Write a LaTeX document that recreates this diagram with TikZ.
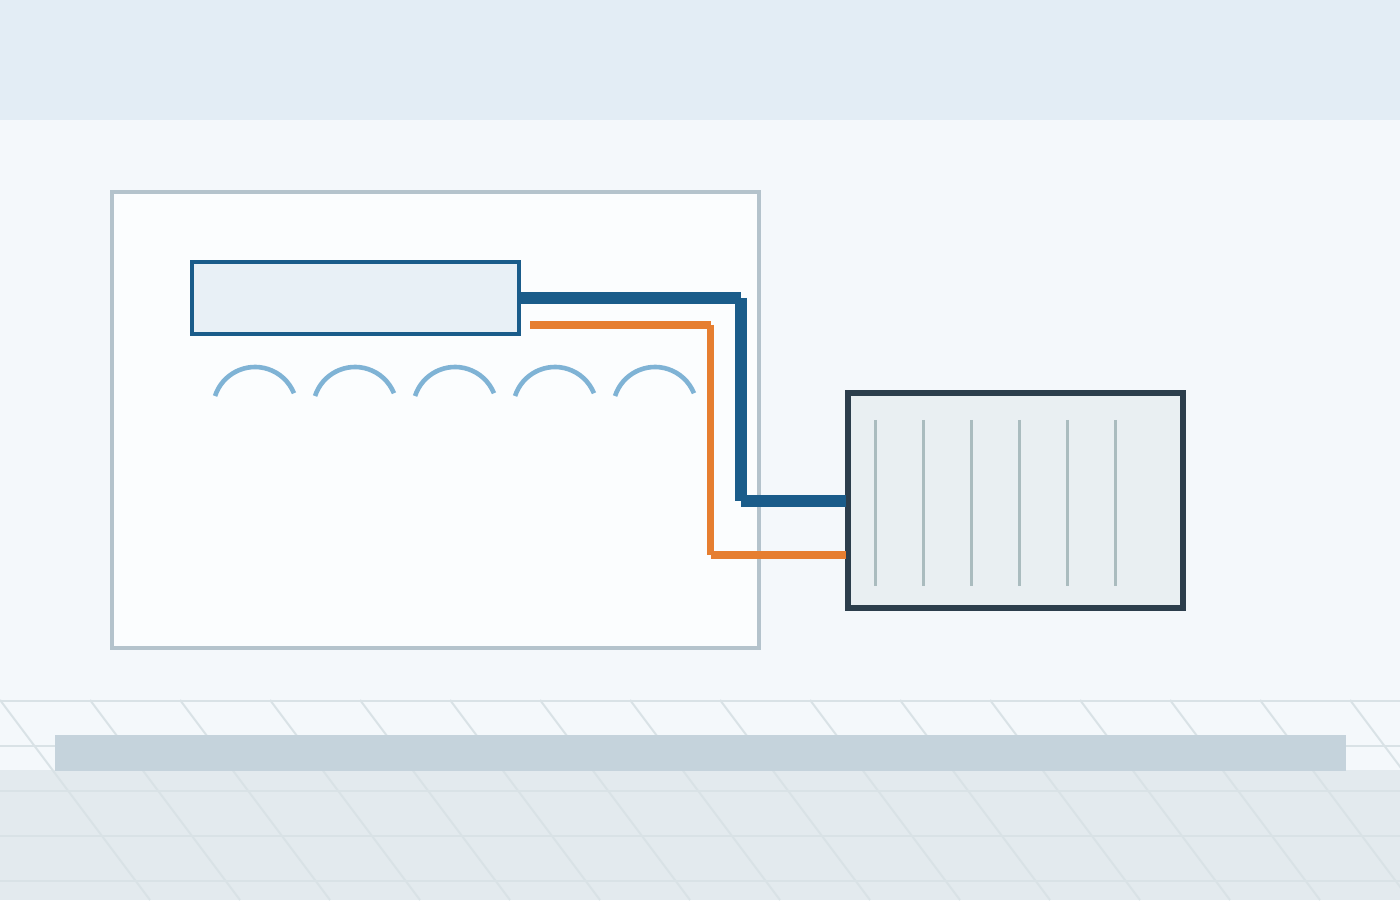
\documentclass[tikz,border=0pt]{standalone}
\usetikzlibrary{calc}
\definecolor{wallbg}{HTML}{F4F8FB}
\definecolor{topband}{HTML}{E3EDF5}
\definecolor{floorbg}{HTML}{E3EAEE}
\definecolor{gridln}{HTML}{D9E2E6}
\definecolor{plinth}{HTML}{C5D3DC}
\definecolor{roomfill}{HTML}{FBFDFE}
\definecolor{roomline}{HTML}{B4C3CC}
\definecolor{unitfill}{HTML}{E8F0F6}
\definecolor{bluepipe}{HTML}{1A5C8A}
\definecolor{orangepipe}{HTML}{E67E30}
\definecolor{airarc}{HTML}{7FB3D5}
\definecolor{radfill}{HTML}{E9EFF2}
\definecolor{radline}{HTML}{2C3E4C}
\definecolor{finline}{HTML}{AABCBF}
\tikzset{
  gridline/.style={draw=gridln,line width=2pt},
  roombox/.style={draw=roomline,fill=roomfill,line width=4.4pt,minimum width=647pt,minimum height=456pt,inner sep=0pt,outer sep=0pt},
  unitbox/.style={draw=bluepipe,fill=unitfill,line width=4.4pt,minimum width=327pt,minimum height=72pt,inner sep=0pt,outer sep=0pt},
  radbox/.style={draw=radline,fill=radfill,line width=6pt,minimum width=335pt,minimum height=215pt,inner sep=0pt,outer sep=0pt},
  finbar/.style={draw=finline,line width=3pt},
  airflow/.style={draw=airarc,line width=4.6pt},
  supply/.style={draw=bluepipe,line width=12pt},
  returnline/.style={draw=orangepipe,line width=7.2pt}
}
\begin{document}
\begin{tikzpicture}[x=1pt,y=1pt]
  \useasboundingbox (0,0) rectangle (1400,900);
  % wall, top band and floor
  \fill[wallbg] (0,0) rectangle (1400,900);
  \fill[topband] (0,779.5) rectangle (1400,900);
  \fill[floorbg] (0,0) rectangle (1400,130);
  % floor tiling
  \begin{scope}
    \clip (0,0) rectangle (1400,900);
    \foreach \yy in {199,154,109,64,19}
      \draw[gridline] (0,\yy) -- (1400,\yy);
    \foreach \xx in {0,90,...,1350}
      \draw[gridline] (\xx,200) -- ++(150,-200);
  \end{scope}
  \fill[plinth] (55,129) rectangle (1346,165);
  % room with the indoor unit
  \node[roombox] (room) at (435.5,480) {};
  \node[unitbox] (unit) at (355.5,602) {};
  \foreach \cx in {255,355,455,555,655}
    \draw[airflow] (\cx,491) ++(162:42) arc[start angle=162,end angle=22,radius=42];
  % radiator
  \node[radbox] (rad) at (1015.5,399.5) {};
  \foreach \fx in {875.5,923.5,971.5,1019.5,1067.5,1115.5}
    \draw[finbar] (\fx,480) -- (\fx,314);
  % pipe route
  \coordinate (b1) at (unit.east |- 0,602);
  \coordinate (b2) at (741,602);
  \coordinate (b3) at (741,399);
  \coordinate (b4) at (846,399);
  \coordinate (o1) at (530,575);
  \coordinate (o2) at (710.5,575);
  \coordinate (o3) at (710.5,345);
  \coordinate (o4) at (846,345);
  \draw[supply] (b1) -- (b2);
  \draw[supply] (b2) -- (b3);
  \draw[supply] (b3) -- (b4);
  \draw[returnline] (o1) -- (o2);
  \draw[returnline] (o2) -- (o3);
  \draw[returnline] (o3) -- (o4);
\end{tikzpicture}
\end{document}
